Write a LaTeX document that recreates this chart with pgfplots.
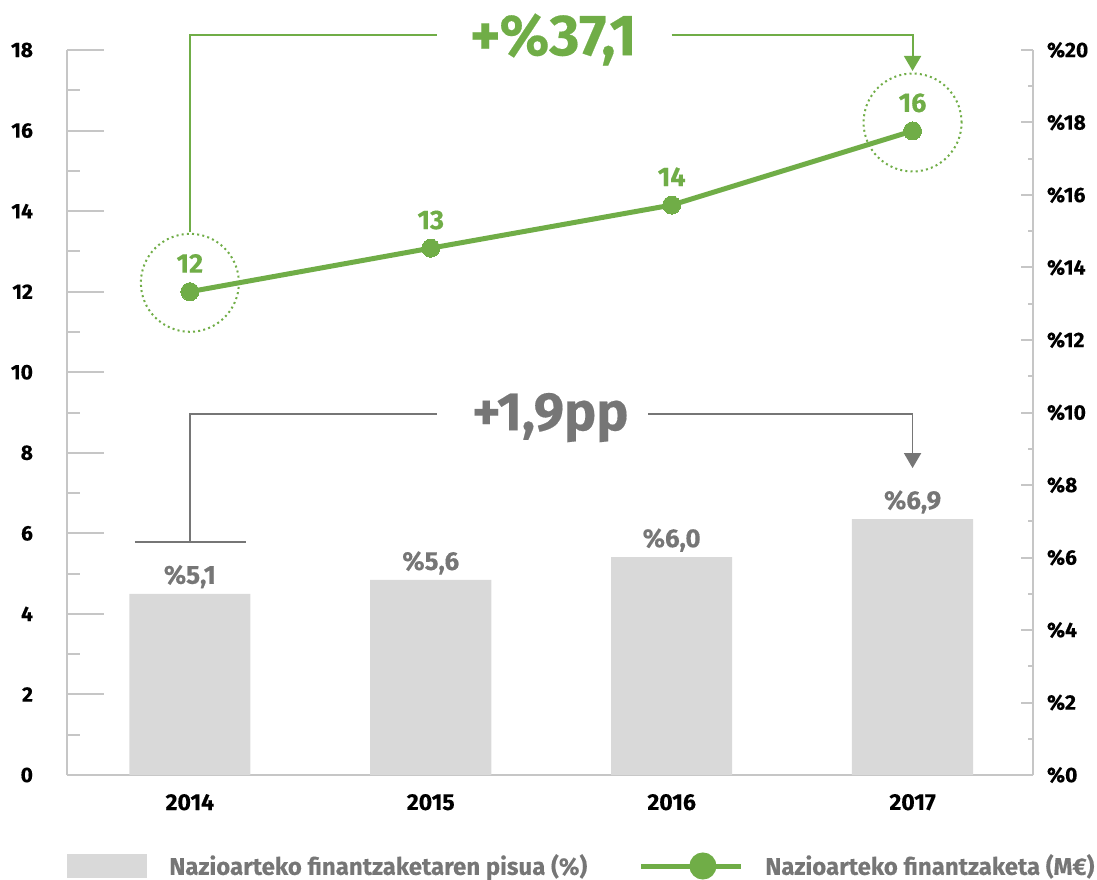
\documentclass[border=0pt]{standalone}
\usepackage{fontspec}
\setmainfont{Fira Sans}[BoldFeatures={FakeBold=0.3}]
\usepackage{pgfplots}
\pgfplotsset{compat=1.18}
\usetikzlibrary{arrows.meta}
\definecolor{grn}{HTML}{70AD47}
\definecolor{bargray}{HTML}{D9D9D9}
\definecolor{txtgray}{HTML}{767676}
\definecolor{axgray}{HTML}{C6C6C6}
\begin{document}
\begin{tikzpicture}
\useasboundingbox (0,0) rectangle (548.5pt,439.5pt);
% ---------- bars, right axis ----------
\begin{axis}[
  at={(33.5pt,52pt)}, anchor=south west,
  scale only axis, width=483pt, height=362.5pt,
  xmin=-0.51, xmax=3.5, ymin=0, ymax=20,
  axis y line*=right, axis x line*=bottom,
  axis line style={axgray, line width=1pt, -},
  xtick={0,1,2,3}, xticklabels={2014,2015,2016,2017},
  ytick={0,2,...,20}, minor ytick={1,3,...,19},
  yticklabels={\%0,\%2,\%4,\%6,\%8,\%10,\%12,\%14,\%16,\%18,\%20},
  tick align=inside,
  major tick length=6pt, minor tick length=2.5pt,
  tick style={axgray, line width=1pt},
  every tick label/.append style={font=\bfseries\fontsize{10.5}{12}\selectfont, text=black},
  xticklabel style={yshift=-6pt, font=\bfseries\fontsize{11.5}{13}\selectfont},
  yticklabel style={xshift=3.5pt},
  clip=false,
  legend style={at={(0,0)}, anchor=west, yshift=-45.5pt, draw=none, fill=none,
    inner sep=0pt, font=\bfseries\fontsize{12}{14}\selectfont, text=txtgray},
  legend image code/.code={\fill[bargray] (0pt,-6pt) rectangle (40pt,6pt); \path (49pt,0pt);},
]
\addplot[ybar, bar width=0.503, fill=bargray, draw=none,
  nodes near coords, point meta=explicit symbolic,
  nodes near coords style={anchor=base, yshift=5pt, text=txtgray,
    font=\bfseries\fontsize{13}{15}\selectfont}]
  coordinates {(0,5.0) [{\%5,1}] (1,5.38) [{\%5,6}] (2,6.01) [{\%6,0}] (3,7.06) [{\%6,9}]};
\addlegendentry{Nazioarteko finantzaketaren pisua (\%)}
\end{axis}
% ---------- line, left axis ----------
\begin{axis}[
  at={(33.5pt,52pt)}, anchor=south west,
  scale only axis, width=483pt, height=362.5pt,
  xmin=-0.51, xmax=3.5, ymin=0, ymax=18,
  axis y line*=left, axis x line=none,
  axis line style={axgray, line width=1pt, -},
  ytick={0,2,...,18}, minor ytick={1,3,...,17},
  tick align=inside,
  major tick length=18.5pt, minor tick length=6.5pt,
  tick style={axgray, line width=1pt},
  /pgf/number format/assume math mode=true,
  every tick label/.append style={font=\bfseries\fontsize{10.5}{12}\selectfont, text=black},
  yticklabel style={xshift=-13.5pt},
  clip=false,
  legend style={at={(0,0)}, anchor=west, xshift=285.5pt, yshift=-45.5pt, draw=none, fill=none,
    inner sep=0pt, font=\bfseries\fontsize{12}{14}\selectfont, text=txtgray},
  legend image code/.code={\draw[grn, line width=2.5pt] (0pt,0pt) -- (50pt,0pt);
     \fill[grn] (31pt,0pt) circle (5.5pt); \path (59pt,0pt);},
]
\addplot[grn, line width=2.5pt, mark=*, mark size=4.5pt,
  mark options={fill=grn, draw=grn, line width=0pt},
  nodes near coords, point meta=explicit symbolic,
  nodes near coords style={anchor=base, yshift=9.5pt, text=grn,
    font=\bfseries\fontsize{13.5}{15}\selectfont}]
  coordinates {(0,12.0) [12] (1,13.08) [13] (2,14.15) [14] (3,15.99) [16]};
\addlegendentry{Nazioarteko finantzaketa (M€)}
\addplot[only marks, mark=o, mark size=24.5pt, forget plot,
  mark options={draw=grn, line width=1pt, dash pattern=on 1pt off 1.6pt}]
  coordinates {(0,12.22) (3,16.2)};
% green bracket
\draw[grn, line width=1pt] (axis cs:0,13.48) |- (axis cs:1.026,18.37);
\draw[grn, line width=1pt, -{Triangle[width=8.5pt,length=7.5pt]}]
  (axis cs:2.0,18.37) -| (axis cs:3.0,17.48);
\node[text=grn, anchor=base, inner sep=0pt, font=\bfseries\fontsize{29}{32}\selectfont]
  at (axis cs:1.508,17.87) {+\%37,1};
% grey bracket
\draw[txtgray, line width=0.9pt] (axis cs:0,5.78) |- (axis cs:1.026,8.96);
\draw[txtgray, line width=0.9pt] (axis cs:-0.228,5.78) -- (axis cs:0.233,5.78);
\draw[txtgray, line width=0.9pt, -{Triangle[width=8.5pt,length=7.5pt]}]
  (axis cs:1.903,8.96) -| (axis cs:3.0,7.62);
\node[text=txtgray, anchor=base, inner sep=0pt, font=\bfseries\fontsize{27}{30}\selectfont]
  at (axis cs:1.496,8.56) {+1,9pp};
\end{axis}
\end{tikzpicture}
\end{document}
